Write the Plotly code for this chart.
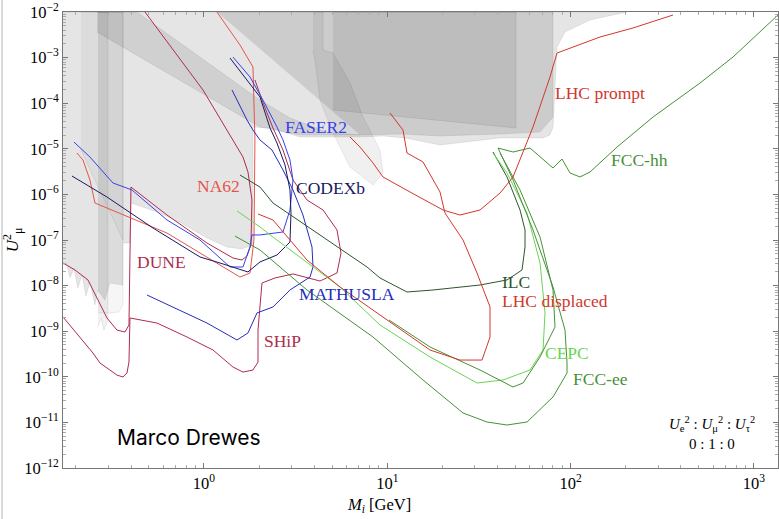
import numpy as np
import plotly.graph_objects as go

# ---------------- data (mass in GeV, mixing U_mu^2) ----------------
# excluded regions (grey)
base_m = [0.1702, 203.1, 127.6, 93.2, 84.3, 82.2, 80.2, 77.2, 70.7, 41.2, 19.39, 12.49, 9.47, 7.10, 4.87, 3.34,
          2.29, 1.85, 1.85, 1.61, 1.335, 1.038, 0.768, 0.575, 0.400, 0.395, 0.361, 0.361,
          0.307, 0.288, 0.264, 0.254, 0.239, 0.227, 0.216, 0.205, 0.195, 0.186, 0.177, 0.1702]
base_u = [1e-2, 1e-2, 6.68e-3, 3.64e-3, 1.71e-3, 2.77e-4, 3.01e-5, 2.01e-5, 1.73e-5, 1.73e-5, 1.21e-5, 1.73e-5,
          1.91e-5, 1.82e-5, 1.82e-5, 1.82e-5, 2.86e-5, 3.01e-5, 7.77e-8, 6.35e-8, 7.02e-8, 1.11e-7, 2.24e-7,
          3.91e-7, 6.48e-7, 8.59e-8, 8.59e-8, 1.03e-8, 1.14e-8, 4.83e-9, 8.01e-9, 3.76e-9, 1.20e-8, 5.92e-9,
          1.71e-8, 8.85e-9, 2.43e-8, 1.47e-8, 3.30e-8, 2.83e-8]

blob_m = [3.933, 4.460, 4.460, 5.056, 6.259, 7.369, 9.124, 9.474, 8.356, 6.259, 5.056, 4.295, 4.083, 3.933]
blob_u = [1e-2, 1e-2, 1.47e-3, 1.26e-3, 2.77e-4, 4.98e-5, 9.41e-6, 2.95e-6, 1.61e-6, 3.99e-6, 2.22e-5,
          1.17e-4, 6.22e-4, 1.47e-3]

stripA_m = [0.2133, 0.3614, 0.3614, 0.2133]
stripA_u = [1e-2, 1e-2, 1e-7, 9.41e-6]
stripB_m = [0.264, 0.3614, 0.3614, 0.3438, 0.307, 0.264]
stripB_u = [1e-2, 1e-2, 3.76e-9, 2.64e-9, 2.51e-9, 2.51e-9]
stripC_m = [0.264, 0.2994, 0.2994, 0.2847, 0.2742, 0.264]
stripC_u = [1e-2, 1e-2, 1.76e-9, 1.06e-9, 1.95e-9, 1.24e-9]

band1_m = [0.2607, 0.431, 2.021, 2.945, 4.869, 7.098, 3.34, 2.021, 0.2607]
band1_u = [1e-2, 1e-2, 1.17e-4, 4.73e-5, 2.22e-5, 2.01e-5, 2.01e-5, 3.01e-5, 3.64e-3]
band2_m = [1.177, 80.17, 80.17, 68.1, 41.2, 19.39, 11.73, 7.098]
band2_u = [1e-2, 1e-2, 4.98e-5, 2.33e-5, 2.11e-5, 1.91e-5, 2.11e-5, 2.01e-5]
rect_m = [5.056, 50.36, 50.36, 5.056]
rect_u = [1e-2, 1e-2, 2.86e-5, 7.10e-5]

# sensitivity curves
dune_m = [0.1702, 0.1978, 0.2328, 0.2607, 0.2957, 0.3352, 0.3707, 0.3898, 0.3997, 0.6283, 1.038, 1.439,
          1.612, 1.716, 1.804, 1.827, 1.738, 1.632, 0.9875, 0.4767]
dune_u = [3.13e-8, 2.20e-8, 1.33e-8, 5.35e-9, 1.95e-9, 1.06e-9, 9.60e-10, 1.37e-9, 1.45e-6, 3.53e-7, 8.59e-8,
          4.03e-8, 3.64e-8, 4.46e-8, 7.77e-8, 7.54e-7, 3.10e-6, 6.61e-6, 1.95e-4, 1e-2]

ship_m = [0.1702, 0.2106, 0.2479, 0.2708, 0.3352, 0.3614, 0.3801, 0.3898, 0.3947, 0.5541, 0.8078, 1.120,
          1.439, 1.632, 1.850, 1.971, 1.971, 2.072, 2.439, 3.059, 4.295, 5.316, 5.590, 5.316, 4.460, 3.647,
          3.059, 2.698, 2.379, 2.072, 1.897]
ship_u = [2.05e-9, 7.46e-10, 3.33e-10, 2.01e-10, 1.09e-10, 9.9e-11, 1.21e-10, 2.11e-10, 1.95e-9, 1.51e-9,
          7.46e-10, 3.87e-10, 1.64e-10, 1.27e-10, 1.41e-10, 2.11e-10, 1.06e-9, 1.14e-8, 1.47e-8, 1.80e-8,
          1.26e-8, 1.89e-8, 5.19e-8, 1.66e-7, 4.55e-7, 7.54e-7, 2.07e-6, 9.41e-6, 2.86e-5, 1.17e-4, 3.23e-4]

na62_m = [0.2028, 0.2187, 0.2387, 0.2542, 0.6283, 1.572, 1.782, 1.874, 1.897, 1.850, 1.572, 1.177]
na62_u = [8.09e-6, 5.68e-6, 2.07e-6, 6.48e-7, 1.42e-7, 1.54e-8, 1.89e-8, 1.0e-7, 1.56e-5, 6.22e-4, 1.89e-3, 1e-2]

faser2_m = [0.1953, 0.2387, 0.3188, 0.4047, 0.6283, 0.951, 1.386, 1.632, 1.782, 1.827, 2.021, 2.698, 2.945,
            3.059, 2.945, 2.698, 2.501, 2.098, 1.782, 1.572, 1.439]
faser2_u = [1.41e-5, 6.61e-6, 1.78e-6, 1.25e-6, 2.75e-7, 1.0e-7, 2.56e-8, 2.56e-8, 7.02e-8, 1.29e-7, 1.29e-7,
            1.50e-7, 4.55e-7, 2.07e-6, 5.68e-6, 1.56e-5, 3.01e-5, 1.17e-4, 3.76e-4, 6.89e-4, 1.03e-3]

mathusla_m = [0.4887, 0.6774, 1.038, 1.514, 1.738, 1.946, 2.379, 2.945, 3.787, 3.933, 3.884, 3.468, 3.059,
              2.698, 2.350, 2.021, 1.850, 1.716, 1.422]
mathusla_u = [6.22e-9, 3.40e-9, 1.51e-9, 6.41e-10, 9.14e-10, 2.51e-9, 3.40e-9, 8.01e-9, 1.54e-8, 2.56e-8,
              7.02e-8, 3.53e-7, 1.25e-6, 3.43e-6, 9.41e-6, 1.56e-5, 2.58e-5, 4.28e-5, 1.95e-4]

codexb_m = [0.1905, 0.2957, 0.527, 0.951, 1.223, 1.738, 2.021, 2.501, 2.945, 2.983, 2.945, 2.767, 2.501,
            2.292, 2.021, 1.674, 1.386]
codexb_u = [2.53e-6, 8.77e-7, 1.83e-7, 4.24e-8, 3.13e-8, 1.99e-8, 3.30e-8, 4.69e-8, 9.04e-8, 3.91e-7,
            1.25e-6, 4.42e-6, 1.34e-5, 2.86e-5, 1.37e-4, 3.76e-4, 9.8e-4]

ilc_m = [1.572, 2.021, 2.379, 4.135, 7.748, 9.124, 12.81, 17.76, 32.04, 44.98, 54.32, 56.4, 56.4, 52.97,
         44.98, 37.73]
ilc_u = [2.66e-6, 1.45e-6, 6.48e-7, 1.42e-7, 2.56e-8, 1.47e-8, 7.24e-9, 8.01e-9, 1.03e-8, 1.33e-8, 2.20e-8,
         7.02e-8, 1.66e-7, 4.55e-7, 2.41e-6, 8.51e-6]

cepc_m = [1.514, 2.021, 2.379, 5.521, 9.124, 17.10, 30.86, 42.78, 60.05, 70.71, 72.51, 68.10, 57.83, 44.98,
          37.73]
cepc_u = [4.33e-7, 1.93e-7, 1.16e-7, 9.31e-9, 1.37e-9, 2.72e-10, 7.31e-11, 8.51e-11, 1.41e-10, 3.87e-10,
          2.51e-9, 3.13e-8, 3.91e-7, 2.95e-6, 8.09e-6]

fccee_m = [1.476, 2.021, 3.647, 8.356, 15.66, 25.88, 34.99, 44.98, 57.83, 80.17, 95.59, 95.59, 93.2, 80.17,
           62.36, 48.52, 40.18]
fccee_u = [1.22e-7, 6.04e-8, 8.01e-9, 7.46e-10, 8.51e-11, 1.61e-11, 1.02e-11, 8.77e-12, 1.02e-11, 3.61e-11,
           1.21e-10, 2.01e-10, 1.06e-9, 9.31e-9, 1.66e-7, 2.07e-6, 1.04e-5]

fccee2_m = [10.22, 17.10, 32.04, 48.52, 55.0, 68.10, 82.21, 80.17, 68.10, 52.97, 41.2]
fccee2_u = [1.76e-9, 4.51e-10, 1.41e-10, 5.97e-11, 7.31e-11, 2.72e-10, 1.24e-9, 8.01e-9, 1.16e-7, 1.25e-6,
            8.09e-6]

fcchh_m = [40.18, 48.52, 60.05, 80.17, 89.75, 99.25, 112.5, 127.6, 179.1, 281.6, 508.0, 769.1, 1353.0]
fcchh_u = [1.04e-5, 8.51e-6, 1.04e-5, 3.79e-6, 5.97e-6, 2.95e-6, 2.41e-6, 3.10e-6, 1.09e-5, 4.98e-5,
           2.77e-4, 1.03e-3, 8.6e-3]

lhcp_m = [6.259, 7.098, 8.356, 9.474, 13.30, 20.13, 24.93, 32.04, 41.2, 48.52, 62.36, 77.2, 84.3, 144.7,
          219.0, 361.9]
lhcp_u = [1.82e-5, 1.09e-5, 4.89e-6, 2.41e-6, 1.13e-6, 4.55e-7, 3.53e-7, 4.55e-7, 1.07e-6, 2.41e-6, 3.01e-5,
          3.76e-4, 1.26e-3, 2.83e-3, 4.46e-3, 8.6e-3]

lhcd_m = [1.971, 2.379, 2.945, 3.647, 5.521, 10.34, 17.10, 24.93, 32.86, 36.34, 36.34, 30.86, 25.88, 20.64,
          19.39, 15.66, 12.81, 12.18, 10.34]
lhcd_u = [3.72e-7, 2.75e-7, 1.0e-7, 3.64e-8, 9.31e-9, 1.59e-9, 3.87e-10, 2.33e-10, 2.33e-10, 7.46e-10,
          3.40e-9, 1.89e-8, 1.0e-7, 3.91e-7, 1.13e-6, 5.14e-6, 8.09e-6, 2.58e-5, 6.10e-5]

# labels: text, mass, U^2, colour
label_text = ["LHC prompt", "FASER2", "FCC-hh", "NA62", "CODEXb", "DUNE", "ILC", "MATHUSLA",
              "LHC displaced", "SHiP", "CEPC", "FCC-ee"]
label_m = [144.7, 4.083, 239.0, 1.207, 4.869, 0.590, 50.36, 6.03, 82.0, 2.665, 95.6, 144.7]
label_u = [1.67e-4, 3.0e-5, 5.68e-6, 1.53e-6, 1.38e-6, 3.30e-8, 1.2e-8, 6.55e-9, 4.6e-9, 6.09e-10,
           3.33e-10, 8.95e-11]

RED = "rgb(210,55,45)"
RED2 = "rgb(228,85,75)"
CRIM = "rgb(172,45,78)"
BLUE = "rgb(55,65,235)"
MBLUE = "rgb(35,45,185)"
NAVY = "rgb(25,25,95)"
DGREEN = "rgb(45,85,45)"
LGREEN = "rgb(105,212,85)"
GREEN = "rgb(70,145,55)"
label_col = [RED, BLUE, GREEN, RED2, NAVY, CRIM, DGREEN, MBLUE, RED, CRIM, LGREEN, GREEN]

fig = go.Figure()

SERIF = "Liberation Serif"
edge = "rgba(0,0,0,0.13)"


def poly(m, u, fill):
    fig.add_trace(go.Scatter(x=m, y=u, mode="lines", fill="toself", fillcolor=fill,
                             line=dict(color=edge, width=0.6), hoverinfo="skip", showlegend=False))


poly(base_m, base_u, "rgb(229,229,229)")
poly(stripA_m, stripA_u, "rgba(0,0,0,0.04)")
poly(stripB_m, stripB_u, "rgba(0,0,0,0.035)")
poly(stripC_m, stripC_u, "rgba(0,0,0,0.055)")
poly(band1_m, band1_u, "rgba(0,0,0,0.09)")
poly(band2_m, band2_u, "rgba(0,0,0,0.105)")
poly(rect_m, rect_u, "rgba(0,0,0,0.07)")
poly(blob_m, blob_u, "rgba(0,0,0,0.06)")


def curve(m, u, col):
    fig.add_trace(go.Scatter(x=m, y=u, mode="lines", line=dict(color=col, width=1),
                             hoverinfo="skip", showlegend=False))


curve(dune_m, dune_u, CRIM)
curve(ship_m, ship_u, CRIM)
curve(na62_m, na62_u, RED2)
curve(faser2_m, faser2_u, BLUE)
curve(mathusla_m, mathusla_u, MBLUE)
curve(codexb_m, codexb_u, NAVY)
curve(ilc_m, ilc_u, DGREEN)
curve(cepc_m, cepc_u, LGREEN)
curve(fccee_m, fccee_u, GREEN)
curve(fccee2_m, fccee2_u, GREEN)
curve(fcchh_m, fcchh_u, GREEN)
curve(lhcp_m, lhcp_u, RED)
curve(lhcd_m, lhcd_u, RED)

for t, m, u, c in zip(label_text, label_m, label_u, label_col):
    fig.add_annotation(x=np.log10(m), y=np.log10(u), xref="x", yref="y", text=t, showarrow=False,
                       font=dict(family=SERIF, size=17.5, color=c))

fig.add_annotation(x=np.log10(0.83), y=np.log10(4.55e-12), xref="x", yref="y", text="Marco Drewes",
                   showarrow=False, font=dict(family="Inter", size=21, color="black"))
fig.add_annotation(x=np.log10(590), y=np.log10(9.2e-12), xref="x", yref="y",
                   text="<i>U</i><sub>e</sub><sup>2</sup> : <i>U</i><sub>μ</sub><sup>2</sup> : <i>U</i><sub>τ</sub><sup>2</sup>",
                   showarrow=False, font=dict(family=SERIF, size=15, color="black"))
fig.add_annotation(x=np.log10(590), y=np.log10(3.36e-12), xref="x", yref="y", text="0 : 1 : 0",
                   showarrow=False, font=dict(family=SERIF, size=15, color="black"))

# x-axis title placed as in the reference
fig.add_annotation(x=0.442, y=-0.082, xref="paper", yref="paper", xanchor="center", yanchor="middle",
                   text="<i>M</i><sub><i>i</i></sub> [GeV]",
                   showarrow=False, font=dict(family=SERIF, size=16.5, color="black"))

# axes ticks
xt = [1, 10, 100, 1000]
xtt = ["10<sup>0</sup>", "10<sup>1</sup>", "10<sup>2</sup>", "10<sup>3</sup>"]
xminor = [k * 10.0 ** e for e in range(-1, 4) for k in range(2, 10)]
yt = [10.0 ** e for e in range(-12, -1)]
ytt = ["10<sup>−%d</sup>" % (-e) for e in range(-12, -1)]
yminor = [k * 10.0 ** e for e in range(-12, -2) for k in range(2, 10)]

axcol = "#777777"
fig.update_xaxes(type="log", range=[np.log10(0.1702), np.log10(1353)], showgrid=False, zeroline=False,
                 showline=True, linecolor=axcol, linewidth=1, mirror="ticks", ticks="inside", ticklen=5,
                 tickcolor=axcol, tickmode="array", tickvals=xt, ticktext=xtt,
                 minor=dict(tickmode="array", tickvals=xminor, ticks="inside", ticklen=3, tickcolor="#aaaaaa"),
                 tickfont=dict(family=SERIF, size=16.5, color="black"))
fig.update_yaxes(type="log", range=[-12, -2], showgrid=False, zeroline=False,
                 showline=True, linecolor=axcol, linewidth=1, mirror="ticks", ticks="inside", ticklen=5,
                 tickcolor=axcol, tickmode="array", tickvals=yt, ticktext=ytt,
                 minor=dict(tickmode="array", tickvals=yminor, ticks="inside", ticklen=3, tickcolor="#aaaaaa"),
                 tickfont=dict(family=SERIF, size=16.5, color="black"),
                 title=dict(text="<i>U</i><sup>2</sup><sub>μ</sub>", font=dict(family=SERIF, size=17, color="black"),
                            standoff=1))

fig.add_shape(type="line", xref="paper", yref="paper", x0=-0.0853, x1=-0.0853, y0=-0.112, y1=1.03,
              line=dict(color="#b5b5b5", width=1))

fig.update_layout(width=779, height=519, margin=dict(l=63, r=1, t=12, b=51),
                  paper_bgcolor="white", plot_bgcolor="white", showlegend=False)

fig.write_html("out.html")
